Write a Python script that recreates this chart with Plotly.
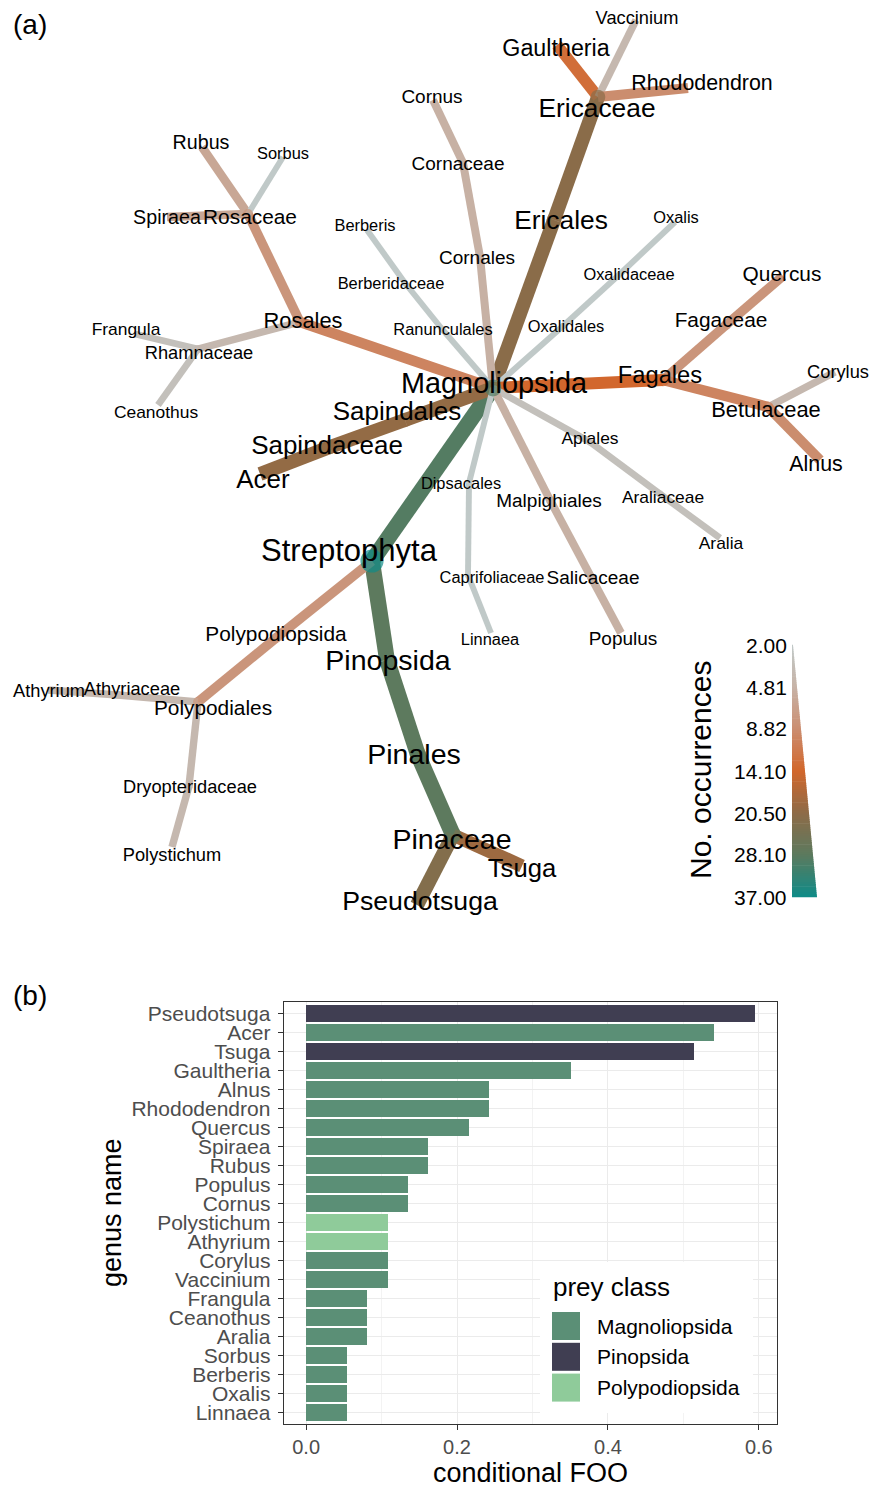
import numpy as np
import plotly.graph_objects as go
from plotly.colors import sample_colorscale

W, H = 869, 1489

# ---------------- data: panel (a) heat tree ----------------
taxa = ["Streptophyta", "Magnoliopsida", "Pinopsida", "Polypodiopsida",
        "Ericales", "Ericaceae", "Gaultheria", "Vaccinium", "Rhododendron",
        "Cornales", "Cornaceae", "Cornus",
        "Ranunculales", "Berberidaceae", "Berberis",
        "Oxalidales", "Oxalidaceae", "Oxalis",
        "Fagales", "Fagaceae", "Quercus", "Betulaceae", "Corylus", "Alnus",
        "Rosales", "Rosaceae", "Rubus", "Spiraea", "Sorbus", "Rhamnaceae", "Frangula", "Ceanothus",
        "Sapindales", "Sapindaceae", "Acer",
        "Apiales", "Araliaceae", "Aralia",
        "Malpighiales", "Salicaceae", "Populus",
        "Dipsacales", "Caprifoliaceae", "Linnaea",
        "Pinales", "Pinaceae", "Tsuga", "Pseudotsuga",
        "Polypodiales", "Athyriaceae", "Athyrium", "Dryopteridaceae", "Polystichum"]
parents = [None, "Streptophyta", "Streptophyta", "Streptophyta",
           "Magnoliopsida", "Ericales", "Ericaceae", "Ericaceae", "Ericaceae",
           "Magnoliopsida", "Cornales", "Cornaceae",
           "Magnoliopsida", "Ranunculales", "Berberidaceae",
           "Magnoliopsida", "Oxalidales", "Oxalidaceae",
           "Magnoliopsida", "Fagales", "Fagaceae", "Fagales", "Betulaceae", "Betulaceae",
           "Magnoliopsida", "Rosales", "Rosaceae", "Rosaceae", "Rosaceae", "Rosales", "Rhamnaceae", "Rhamnaceae",
           "Magnoliopsida", "Sapindales", "Sapindaceae",
           "Magnoliopsida", "Apiales", "Araliaceae",
           "Magnoliopsida", "Malpighiales", "Salicaceae",
           "Magnoliopsida", "Dipsacales", "Caprifoliaceae",
           "Pinopsida", "Pinales", "Pinaceae", "Pinaceae",
           "Polypodiopsida", "Polypodiales", "Athyriaceae", "Polypodiales", "Dryopteridaceae"]
occurrences = [37, 29, 28, 8,
               21, 21, 13, 4, 9,
               5, 5, 5,
               2, 2, 2,
               2, 2, 2,
               14, 8, 8, 10, 4, 9,
               10, 8, 6, 6, 2, 4, 3, 3,
               20, 20, 20,
               3, 3, 3,
               5, 5, 5,
               2, 2, 2,
               28, 28, 19, 22,
               8, 4, 4, 4, 4]

legend_ticks = [2.00, 4.81, 8.82, 14.10, 20.50, 28.10, 37.00]

# ---------------- data: panel (b) bar chart ----------------
genus = ["Pseudotsuga", "Acer", "Tsuga", "Gaultheria", "Alnus", "Rhododendron", "Quercus",
         "Spiraea", "Rubus", "Populus", "Cornus", "Polystichum", "Athyrium", "Corylus",
         "Vaccinium", "Frangula", "Ceanothus", "Aralia", "Sorbus", "Berberis", "Oxalis", "Linnaea"]
cond_foo = [0.595, 0.541, 0.514, 0.351, 0.243, 0.243, 0.216,
            0.162, 0.162, 0.135, 0.135, 0.108, 0.108, 0.108,
            0.108, 0.081, 0.081, 0.081, 0.054, 0.054, 0.054, 0.054]
prey_class = ["Pinopsida", "Magnoliopsida", "Pinopsida", "Magnoliopsida", "Magnoliopsida",
              "Magnoliopsida", "Magnoliopsida", "Magnoliopsida", "Magnoliopsida", "Magnoliopsida",
              "Magnoliopsida", "Polypodiopsida", "Polypodiopsida", "Magnoliopsida", "Magnoliopsida",
              "Magnoliopsida", "Magnoliopsida", "Magnoliopsida", "Magnoliopsida", "Magnoliopsida",
              "Magnoliopsida", "Magnoliopsida"]
class_order = ["Magnoliopsida", "Pinopsida", "Polypodiopsida"]

# ---------------- layout of the tree (pixel-like layout units) ----------------
node_xy = {
    "Streptophyta": (372, 561), "Magnoliopsida": (493, 388), "Pinopsida": (387, 660),
    "Polypodiopsida": (276, 638),
    "Ericales": (554, 220), "Ericaceae": (598, 97), "Gaultheria": (557, 45),
    "Vaccinium": (636, 20), "Rhododendron": (688, 88),
    "Cornales": (480, 257), "Cornaceae": (463, 163), "Cornus": (433, 100),
    "Ranunculales": (442, 329), "Berberidaceae": (405, 283), "Berberis": (367, 230),
    "Oxalidales": (563, 326), "Oxalidaceae": (621, 273), "Oxalis": (675, 222),
    "Fagales": (663, 380), "Fagaceae": (726, 325), "Quercus": (783, 276),
    "Betulaceae": (768, 407), "Corylus": (835, 372), "Alnus": (820, 460),
    "Rosales": (300, 322), "Rosaceae": (248, 214), "Rubus": (202, 147),
    "Spiraea": (167, 217), "Sorbus": (283, 157), "Rhamnaceae": (198, 349),
    "Frangula": (135, 334), "Ceanothus": (158, 405),
    "Sapindales": (405, 420), "Sapindaceae": (330, 447), "Acer": (260, 474),
    "Apiales": (590, 442), "Araliaceae": (660, 494), "Aralia": (720, 538),
    "Malpighiales": (550, 500), "Salicaceae": (591, 577), "Populus": (621, 633),
    "Dipsacales": (469, 483), "Caprifoliaceae": (468, 575), "Linnaea": (491, 633),
    "Pinales": (418, 755), "Pinaceae": (453, 835), "Tsuga": (522, 866),
    "Pseudotsuga": (417, 905),
    "Polypodiales": (198, 702), "Athyriaceae": (118, 695), "Athyrium": (48, 690),
    "Dryopteridaceae": (189, 786), "Polystichum": (172, 847),
}
label_xy = {
    "Streptophyta": (349, 553), "Magnoliopsida": (494, 386), "Pinopsida": (388, 663),
    "Polypodiopsida": (276, 636),
    "Ericales": (561, 222), "Ericaceae": (597, 110), "Gaultheria": (556, 50),
    "Vaccinium": (637, 19), "Rhododendron": (702, 85),
    "Cornales": (477, 259), "Cornaceae": (458, 165), "Cornus": (432, 98),
    "Ranunculales": (443, 331), "Berberidaceae": (391, 285), "Berberis": (365, 227),
    "Oxalidales": (566, 328), "Oxalidaceae": (629, 276), "Oxalis": (676, 219),
    "Fagales": (660, 377), "Fagaceae": (721, 322), "Quercus": (782, 276),
    "Betulaceae": (766, 412), "Corylus": (838, 373), "Alnus": (816, 466),
    "Rosales": (303, 323), "Rosaceae": (250, 219), "Rubus": (201, 144),
    "Spiraea": (167, 219), "Sorbus": (283, 155), "Rhamnaceae": (199, 354),
    "Frangula": (126, 331), "Ceanothus": (156, 414),
    "Sapindales": (397, 414), "Sapindaceae": (327, 448), "Acer": (263, 482),
    "Apiales": (590, 440), "Araliaceae": (663, 499), "Aralia": (721, 545),
    "Malpighiales": (549, 502), "Salicaceae": (593, 579), "Populus": (623, 640),
    "Dipsacales": (461, 485), "Caprifoliaceae": (492, 579), "Linnaea": (490, 641),
    "Pinales": (414, 757), "Pinaceae": (452, 842), "Tsuga": (522, 871),
    "Pseudotsuga": (420, 903),
    "Polypodiales": (213, 710), "Athyriaceae": (132, 690), "Athyrium": (49, 692),
    "Dryopteridaceae": (190, 788), "Polystichum": (172, 856),
}

occ_colorscale = [
    [0.0, "#c0c9c8"],
    [1 / 6, "#c7b3a7"],
    [2 / 6, "#cb8e71"],
    [3 / 6, "#d2672c"],
    [4 / 6, "#8e6b47"],
    [0.75, "#757253"],
    [5 / 6, "#5c7a5e"],
    [1.0, "#0f8b87"],
]
class_colors = {"Magnoliopsida": "#5b8f76", "Pinopsida": "#403e52", "Polypodiopsida": "#8fcb9a"}

FONT = "Liberation Sans, Arial, sans-serif"
vmin, vmax = min(occurrences), max(occurrences)


def occ_t(v):
    return (np.sqrt(v) - np.sqrt(vmin)) / (np.sqrt(vmax) - np.sqrt(vmin))


def occ_color(v):
    return sample_colorscale(occ_colorscale, [float(np.clip(occ_t(v), 0, 1))])[0]


def edge_width(v):
    return 2.3 + 2.55 * np.sqrt(v)


def label_size(v):
    return 12 + 3.13 * np.sqrt(v)


def px_x(x):
    return x / W


def px_y(y):
    return 1 - y / H


occ = dict(zip(taxa, occurrences))
par = dict(zip(taxa, parents))

fig = go.Figure()

# edges
for t in taxa:
    p = par[t]
    if p is None:
        continue
    (x0, y0), (x1, y1) = node_xy[p], node_xy[t]
    fig.add_trace(go.Scatter(
        x=[x0, x1], y=[y0, y1], mode="lines",
        line=dict(color=occ_color(occ[t]), width=edge_width(occ[t])),
        hoverinfo="skip", showlegend=False, xaxis="x", yaxis="y"))

# internal nodes
internal = [t for t in taxa if t in set(parents)]
fig.add_trace(go.Scatter(
    x=[node_xy[t][0] for t in internal], y=[node_xy[t][1] for t in internal],
    mode="markers",
    marker=dict(size=[edge_width(occ[t]) * (1.3 if par[t] is None else 1.05) for t in internal],
                color=[occ_color(occ[t]) for t in internal], line=dict(width=0)),
    text=internal, customdata=[occ[t] for t in internal],
    hovertemplate="%{text}: %{customdata}<extra></extra>",
    showlegend=False, xaxis="x", yaxis="y"))

# labels
fig.add_trace(go.Scatter(
    x=[label_xy[t][0] for t in taxa], y=[label_xy[t][1] for t in taxa],
    mode="text", text=taxa, textposition="middle center",
    textfont=dict(family=FONT, color="black", size=[label_size(occ[t]) for t in taxa]),
    hoverinfo="skip", showlegend=False, xaxis="x", yaxis="y"))

# ---------------- wedge legend for occurrences ----------------
shapes = []
annotations = []
wy0, wy1 = 645.0, 897.0
wxl, wxr0, wxr1 = 792.0, 793.0, 817.0
n_strips = 120
for i in range(n_strips):
    ya = wy0 + (wy1 - wy0) * i / n_strips
    yb = wy0 + (wy1 - wy0) * (i + 1) / n_strips
    xa = wxr0 + (wxr1 - wxr0) * i / n_strips
    xb = wxr0 + (wxr1 - wxr0) * (i + 1) / n_strips
    tmid = (i + 0.5) / n_strips
    col = sample_colorscale(occ_colorscale, [tmid])[0]
    shapes.append(dict(type="path", xref="x", yref="y",
                       path=f"M{wxl},{ya - 0.3} L{xa},{ya - 0.3} L{xb},{yb + 0.3} L{wxl},{yb + 0.3} Z",
                       fillcolor=col, line=dict(width=0), layer="above"))
for v in legend_ticks:
    yy = wy0 + (wy1 - wy0) * occ_t(v)
    annotations.append(dict(x=789, y=yy, xref="x", yref="y", text=f"{v:.2f}", showarrow=False,
                            xanchor="right", yanchor="middle",
                            font=dict(family=FONT, size=21, color="black")))
annotations.append(dict(x=700, y=770, xref="x", yref="y", text="No. occurrences", showarrow=False,
                        textangle=-90, xanchor="center", yanchor="middle",
                        font=dict(family=FONT, size=30, color="black")))

# panel tags
annotations.append(dict(x=px_x(11), y=px_y(25), xref="paper", yref="paper", text="(a)",
                        showarrow=False, xanchor="left", yanchor="middle",
                        font=dict(family=FONT, size=28, color="black")))
annotations.append(dict(x=px_x(11), y=px_y(995), xref="paper", yref="paper", text="(b)",
                        showarrow=False, xanchor="left", yanchor="middle",
                        font=dict(family=FONT, size=28, color="black")))

# ---------------- panel (b) bars ----------------
for cls in class_order:
    gx = [f for f, c in zip(cond_foo, prey_class) if c == cls]
    gy = [g for g, c in zip(genus, prey_class) if c == cls]
    fig.add_trace(go.Bar(x=gx, y=gy, orientation="h", name=cls,
                         marker=dict(color=class_colors[cls], line=dict(width=0)),
                         showlegend=False, xaxis="x2", yaxis="y2",
                         hovertemplate="%{y}: %{x:.3f}<extra>" + cls + "</extra>"))

# axis titles
annotations.append(dict(x=px_x(530), y=px_y(1473), xref="paper", yref="paper", text="conditional FOO",
                        showarrow=False, xanchor="center", yanchor="middle",
                        font=dict(family=FONT, size=27, color="black")))
annotations.append(dict(x=px_x(112), y=px_y(1213), xref="paper", yref="paper", text="genus name",
                        showarrow=False, textangle=-90, xanchor="center", yanchor="middle",
                        font=dict(family=FONT, size=27, color="black")))

# manual legend
shapes.append(dict(type="rect", xref="paper", yref="paper",
                   x0=px_x(540), x1=px_x(753), y0=px_y(1413), y1=px_y(1262),
                   fillcolor="white", line=dict(width=0), layer="above"))
annotations.append(dict(x=px_x(551), y=px_y(1287), xref="paper", yref="paper", text="prey class",
                        showarrow=False, xanchor="left", yanchor="middle",
                        font=dict(family=FONT, size=26, color="black")))
for k, cls in enumerate(class_order):
    top = 1312 + k * 30.8
    shapes.append(dict(type="rect", xref="paper", yref="paper",
                       x0=px_x(552), x1=px_x(580), y0=px_y(top + 28), y1=px_y(top),
                       fillcolor=class_colors[cls], line=dict(width=0), layer="above"))
    annotations.append(dict(x=px_x(595), y=px_y(top + 14), xref="paper", yref="paper", text=cls,
                            showarrow=False, xanchor="left", yanchor="middle",
                            font=dict(family=FONT, size=21, color="black")))

panel_l, panel_r, panel_t, panel_b = 283.7, 776.7, 1002.0, 1424.0
fig.update_layout(
    width=W, height=H, margin=dict(l=0, r=0, t=0, b=0),
    paper_bgcolor="white", plot_bgcolor="white",
    barmode="stack", bargap=0.1,
    font=dict(family=FONT),
    xaxis=dict(domain=[0, 1], range=[0, W], visible=False, fixedrange=True),
    yaxis=dict(domain=[1 - 930 / H, 1], range=[930, 0], visible=False, fixedrange=True),
    xaxis2=dict(domain=[px_x(panel_l), px_x(panel_r)], anchor="y2",
                range=[-0.0297, 0.6237], tickvals=[0, 0.2, 0.4, 0.6],
                ticktext=["0.0", "0.2", "0.4", "0.6"],
                ticks="outside", ticklen=5, tickwidth=1.2, tickcolor="#333333",
                tickfont=dict(family=FONT, size=20, color="#4d4d4d"),
                showgrid=True, gridcolor="#ebebeb", gridwidth=1.2,
                minor=dict(tickvals=[0.1, 0.3, 0.5], showgrid=True, gridcolor="#f3f3f3",
                           gridwidth=0.7, ticks=""),
                zeroline=False, showline=True, mirror=True, linecolor="#333333", linewidth=1.2),
    yaxis2=dict(domain=[px_y(panel_b), px_y(panel_t)], anchor="x2",
                type="category", categoryorder="array", categoryarray=genus,
                tickmode="array", tickvals=genus, ticktext=genus,
                range=[21.6, -0.6],
                ticks="outside", ticklen=5, tickwidth=1.2, tickcolor="#333333",
                tickfont=dict(family=FONT, size=21, color="#4d4d4d"),
                ticklabelstandoff=3,
                showgrid=True, gridcolor="#ebebeb", gridwidth=1.2,
                zeroline=False, showline=True, mirror=True, linecolor="#333333", linewidth=1.2),
    shapes=shapes, annotations=annotations,
)

fig.write_html(
    "out.html",
    config={"displayModeBar": False},
    post_script="document.body.style.margin='0';document.body.style.padding='0';",
)
